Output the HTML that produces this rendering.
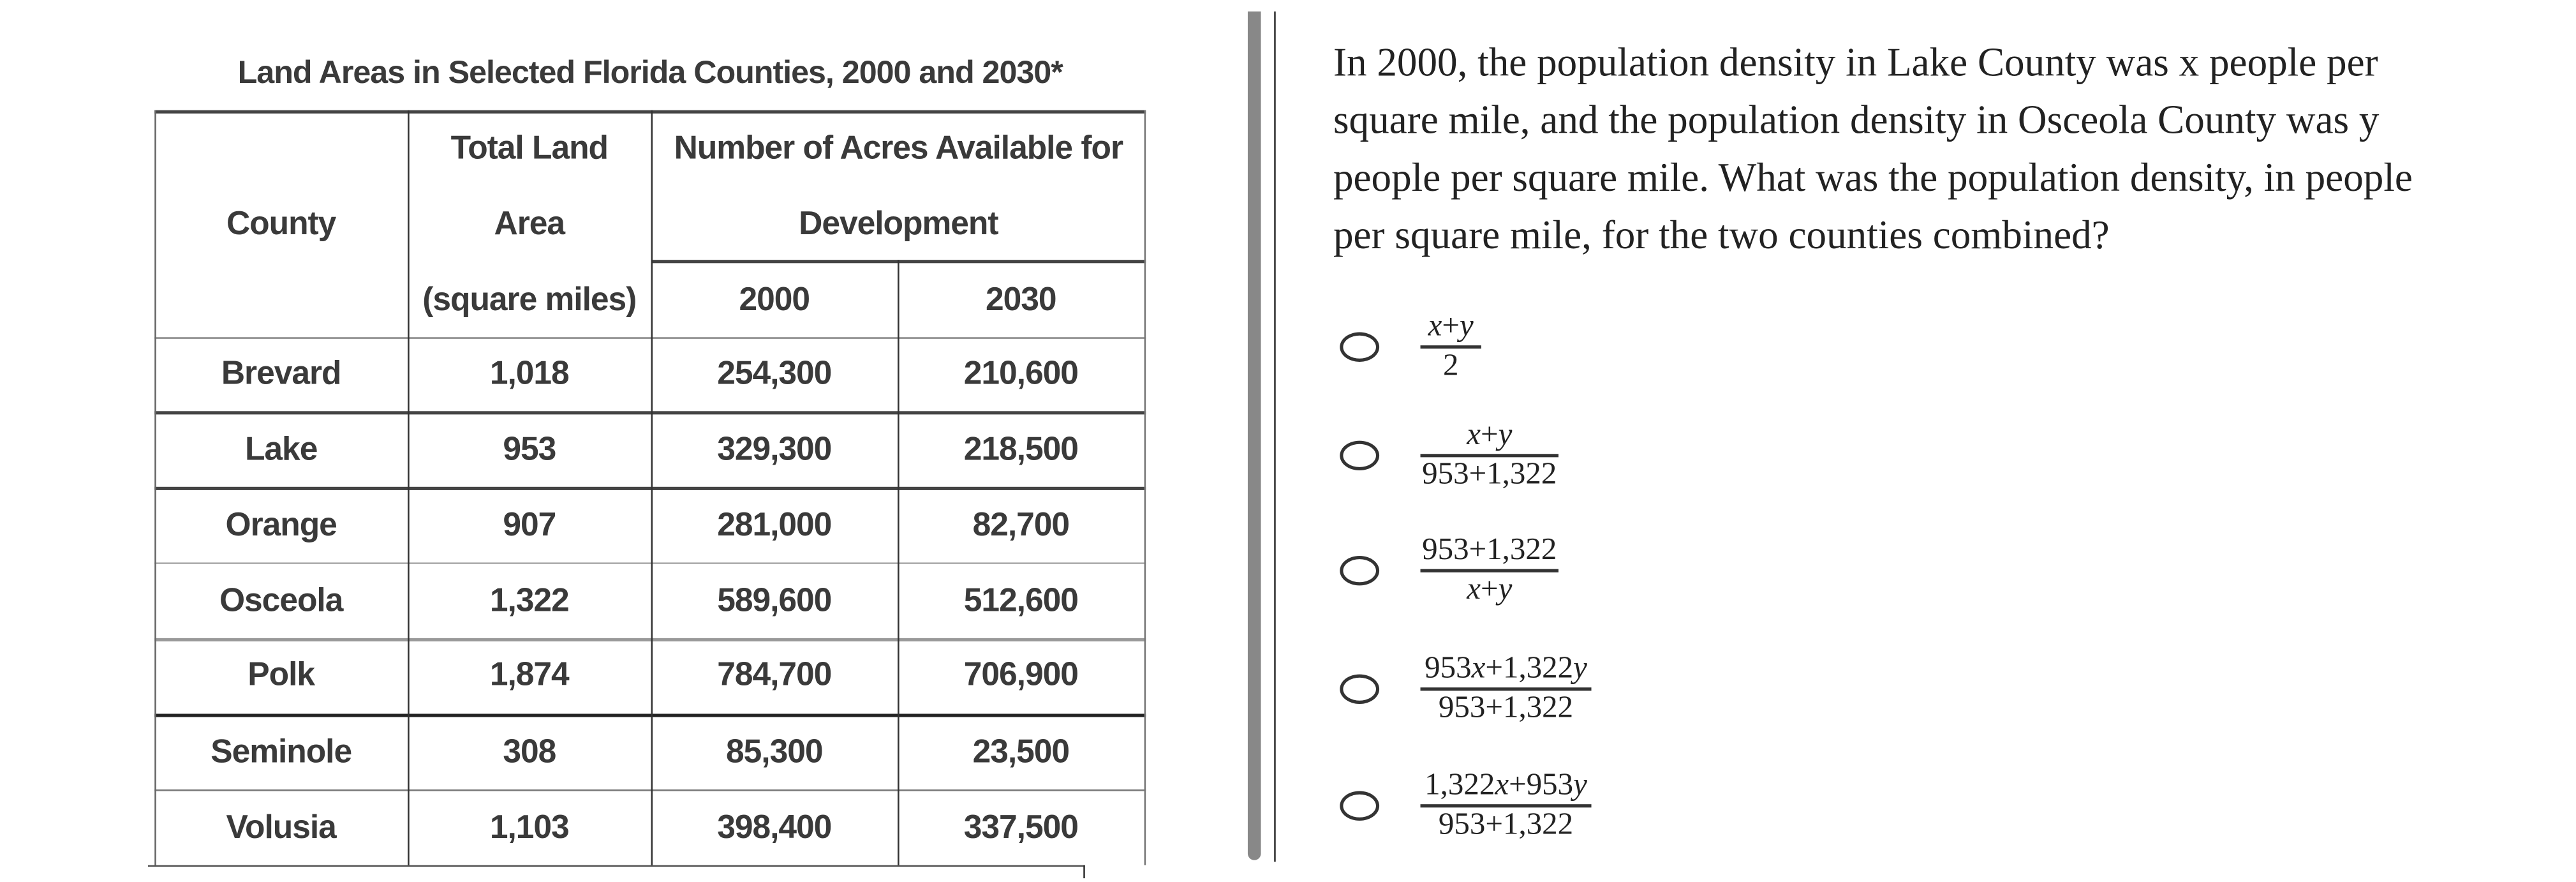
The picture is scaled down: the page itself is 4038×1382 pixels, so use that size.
<!DOCTYPE html>
<html><head><meta charset="utf-8"><style>
html,body{margin:0;padding:0;background:#fff;}
body{width:4038px;height:1382px;overflow:hidden;position:relative;}
#w{position:absolute;left:0;top:0;width:1567px;height:536px;transform:scale(2.577);transform-origin:0 0;}
.a{position:absolute;}
.t{position:absolute;font-family:"Liberation Sans",sans-serif;color:#3a3a3a;font-size:20px;font-weight:bold;text-align:center;white-space:nowrap;transform:translateY(-50%);letter-spacing:-0.4px;}
.h{position:absolute;background:#444;height:1.3px;}
.v{position:absolute;background:#333;width:1.1px;}
.q{position:absolute;left:811px;font-family:"Liberation Serif",serif;font-size:24.5px;color:#222;white-space:nowrap;}
.r{position:absolute;left:815px;width:20px;height:14px;border:2px solid #333;border-radius:50%;}
.f{position:absolute;font-family:"Liberation Serif",serif;font-size:19px;color:#222;text-align:center;}
.f .n,.f .d{display:block;line-height:20px;white-space:nowrap;}
.f .b{display:block;height:1.6px;background:#333;margin:1px 0;}
i{font-style:italic;}
</style></head><body><div id="w">
<div class="t" style="left:94px;width:603px;top:45px;font-size:19.5px;">Land Areas in Selected Florida Counties, 2000 and 2030*</div>
<div class="h" style="left:94px;width:603px;top:67px;height:1.6px;"></div>
<div class="h" style="left:396px;width:301px;top:158px;height:1.6px;"></div>
<div class="h" style="left:94px;width:603px;top:205px;background:#888;"></div>
<div class="h" style="left:94px;width:603px;top:250px;height:1.6px;"></div>
<div class="h" style="left:94px;width:603px;top:296px;height:1.6px;"></div>
<div class="h" style="left:94px;width:603px;top:342px;background:#aaa;"></div>
<div class="h" style="left:94px;width:603px;top:388px;background:#999;height:1.6px;"></div>
<div class="h" style="left:94px;width:603px;top:434px;height:1.8px;background:#222;"></div>
<div class="h" style="left:94px;width:603px;top:480px;background:#777;"></div>
<div class="h" style="left:90px;width:570px;top:526px;background:#555;"></div>
<div class="v" style="left:94px;top:67px;height:459px;background:#666;"></div>
<div class="v" style="left:248px;top:67px;height:459px;"></div>
<div class="v" style="left:396px;top:67px;height:459px;"></div>
<div class="v" style="left:546px;top:158px;height:368px;"></div>
<div class="v" style="left:696px;top:67px;height:459px;background:#777;"></div>
<div class="v" style="left:659px;top:526px;height:8px;"></div>
<div class="t" style="left:94px;width:154px;top:137px;">County</div>
<div class="t" style="left:248px;width:148px;top:91px;">Total Land</div>
<div class="t" style="left:248px;width:148px;top:137px;">Area</div>
<div class="t" style="left:248px;width:148px;top:183px;">(square miles)</div>
<div class="t" style="left:396px;width:301px;top:91px;">Number of Acres Available for</div>
<div class="t" style="left:396px;width:301px;top:137px;">Development</div>
<div class="t" style="left:396px;width:150px;top:183px;">2000</div>
<div class="t" style="left:546px;width:150px;top:183px;">2030</div>
<div class="t" style="left:94px;width:154px;top:228px;">Brevard</div><div class="t" style="left:248px;width:148px;top:228px;">1,018</div><div class="t" style="left:396px;width:150px;top:228px;">254,300</div><div class="t" style="left:546px;width:150px;top:228px;">210,600</div>
<div class="t" style="left:94px;width:154px;top:274px;">Lake</div><div class="t" style="left:248px;width:148px;top:274px;">953</div><div class="t" style="left:396px;width:150px;top:274px;">329,300</div><div class="t" style="left:546px;width:150px;top:274px;">218,500</div>
<div class="t" style="left:94px;width:154px;top:320px;">Orange</div><div class="t" style="left:248px;width:148px;top:320px;">907</div><div class="t" style="left:396px;width:150px;top:320px;">281,000</div><div class="t" style="left:546px;width:150px;top:320px;">82,700</div>
<div class="t" style="left:94px;width:154px;top:366px;">Osceola</div><div class="t" style="left:248px;width:148px;top:366px;">1,322</div><div class="t" style="left:396px;width:150px;top:366px;">589,600</div><div class="t" style="left:546px;width:150px;top:366px;">512,600</div>
<div class="t" style="left:94px;width:154px;top:411px;">Polk</div><div class="t" style="left:248px;width:148px;top:411px;">1,874</div><div class="t" style="left:396px;width:150px;top:411px;">784,700</div><div class="t" style="left:546px;width:150px;top:411px;">706,900</div>
<div class="t" style="left:94px;width:154px;top:458px;">Seminole</div><div class="t" style="left:248px;width:148px;top:458px;">308</div><div class="t" style="left:396px;width:150px;top:458px;">85,300</div><div class="t" style="left:546px;width:150px;top:458px;">23,500</div>
<div class="t" style="left:94px;width:154px;top:504px;">Volusia</div><div class="t" style="left:248px;width:148px;top:504px;">1,103</div><div class="t" style="left:396px;width:150px;top:504px;">398,400</div><div class="t" style="left:546px;width:150px;top:504px;">337,500</div>
<div class="a" style="left:758.5px;top:7.3px;width:8.5px;height:516px;background:#888;border-radius:0 0 4px 4px;"></div>
<div class="a" style="left:774.5px;top:7.3px;width:1.2px;height:517px;background:#333;"></div>
<div class="q" style="top:25px;">In 2000, the population density in Lake County was x people per</div>
<div class="q" style="top:60px;">square mile, and the population density in Osceola County was y</div>
<div class="q" style="top:95px;">people per square mile. What was the population density, in people</div>
<div class="q" style="top:130px;">per square mile, for the two counties combined?</div>
<div class="r" style="top:202px;"></div>
<div class="f" style="left:864px;top:189px;width:37px;"><span class="n"><i>x</i>+<i>y</i></span><span class="b"></span><span class="d">2</span></div>
<div class="r" style="top:268px;"></div>
<div class="f" style="left:864px;top:255px;width:84px;"><span class="n"><i>x</i>+<i>y</i></span><span class="b"></span><span class="d">953+1,322</span></div>
<div class="r" style="top:338px;"></div>
<div class="f" style="left:864px;top:325px;width:84px;"><span class="n">953+1,322</span><span class="b"></span><span class="d"><i>x</i>+<i>y</i></span></div>
<div class="r" style="top:410px;"></div>
<div class="f" style="left:864px;top:397px;width:104px;"><span class="n">953<i>x</i>+1,322<i>y</i></span><span class="b"></span><span class="d">953+1,322</span></div>
<div class="r" style="top:481px;"></div>
<div class="f" style="left:864px;top:468px;width:104px;"><span class="n">1,322<i>x</i>+953<i>y</i></span><span class="b"></span><span class="d">953+1,322</span></div>
</div></body></html>
